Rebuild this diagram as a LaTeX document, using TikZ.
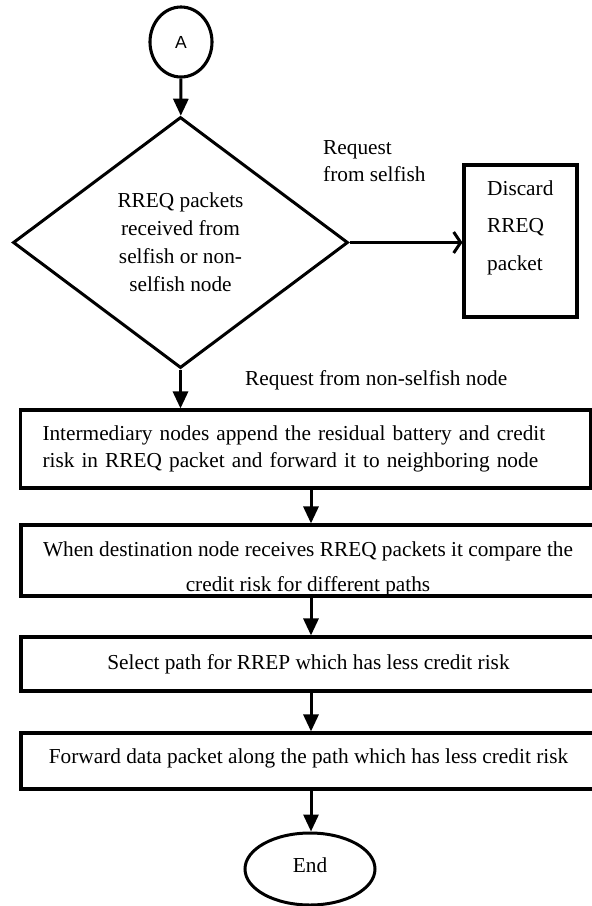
\documentclass[tikz,border=0pt]{standalone}
\usepackage{fontspec}
\setmainfont{Liberation Serif}
\newfontfamily\arialfont{Liberation Sans}
\usetikzlibrary{shapes.geometric,arrows.meta}
\tikzset{
  txt/.style={font=\fontsize{21.3}{27}\selectfont},
  stepbox/.style={draw, rectangle, line width=3.1pt, inner sep=0pt, txt},
  flowarrow/.style={-{Triangle[length=17pt,width=15pt]}, line width=3pt},
  openarrow/.style={-{Straight Barb[length=7pt,width=21pt]}, line width=3pt},
}
\begin{document}
\begin{tikzpicture}[x=1pt,y=-1pt]
\useasboundingbox (0,0) rectangle (592,906);
\clip (0,0) rectangle (592,906);
\coordinate (spine) at (311,0);

% start
\node[draw, ellipse, line width=3.1pt, minimum width=62pt, minimum height=70pt, inner sep=0pt,
      font=\arialfont\fontsize{17.5}{20}\selectfont] (A) at (181,42) {A};

% decision
\node[draw, diamond, line width=3pt, minimum width=335pt, minimum height=251pt, inner sep=0pt,
      align=center, font=\fontsize{21.3}{28}\selectfont] (dec) at (180.5,242.5)
  {RREQ packets\\received from\\selfish or non-\\selfish node};

% discard box
\node[stepbox, minimum width=113pt, minimum height=152pt] (disc) at (520.5,241) {};
\node[anchor=west, inner sep=0pt, align=left, font=\fontsize{21.3}{37.5}\selectfont] (disctext) at (487,227.4)
  {Discard\\RREQ\\packet};

% labels
\node[anchor=west, inner sep=0pt, align=left, txt] (lblself) at (323,161)
  {Request\\from selfish};
\node[anchor=west, inner sep=0pt, txt] (lblnon) at (245,380)
  {Request from non-selfish node};

% box 1
\node[stepbox, text width=526pt, align=left, inner xsep=22pt, minimum height=78pt] (b1) at (305.5,449)
  {Intermediary nodes append the residual battery and credit\\risk in RREQ packet and forward it to neighboring node};

% box 2 (text clipped by the box)
\begin{scope}
  \clip (21,525) rectangle (596,593);
  \node[inner sep=0pt, align=center, font=\fontsize{21.3}{35}\selectfont] (b2text) at (308,568.4)
    {When destination node receives RREQ packets it compare the\\credit risk for different paths};
\end{scope}
\node[stepbox, minimum width=575pt, minimum height=71pt] (b2) at (308.5,560.5) {};

% box 3
\node[stepbox, minimum width=575pt, minimum height=54pt] (b3) at (308.5,664)
  {Select path for RREP which has less credit risk};

% box 4
\node[stepbox, minimum width=575pt, minimum height=56pt, text depth=10.5pt] (b4) at (308.5,761)
  {Forward data packet along the path which has less credit risk};

% end
\node[draw, ellipse, line width=3pt, minimum width=130pt, minimum height=72pt, inner sep=0pt,
      text depth=8pt, txt] (endn) at (310,869) {End};

% connectors
\draw[flowarrow] (A) -- (dec);
\draw[flowarrow] (dec.south) -- (dec.south |- b1.north);
\draw[openarrow] (dec.east) -- (dec.east -| disc.west);
\draw[flowarrow] (spine |- b1.south) -- (spine |- b2.north);
\draw[flowarrow] (spine |- b2.south) -- (spine |- b3.north);
\draw[flowarrow] (spine |- b3.south) -- (spine |- b4.north);
\draw[flowarrow] (spine |- b4.south) -- (spine |- endn.north);
\end{tikzpicture}
\end{document}
